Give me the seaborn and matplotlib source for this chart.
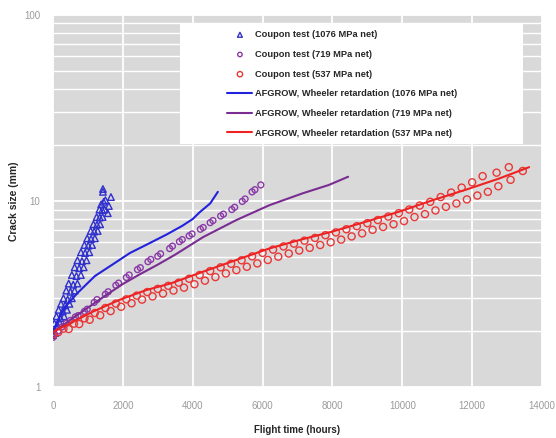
import matplotlib
matplotlib.use("Agg")
import matplotlib.pyplot as plt
import seaborn as sns
import pandas as pd
from matplotlib.patches import Rectangle
from matplotlib.ticker import FixedLocator, NullFormatter, LogLocator

# ---- data ----
# AFGROW predictions (Wheeler retardation)
afg_1076_x = [0, 150, 350, 700, 1200, 1700, 2200, 2700, 3250, 3700, 4000, 4200, 4500, 4720]
afg_1076_y = [1.97, 2.3, 2.7, 3.2, 3.95, 4.55, 5.25, 5.85, 6.6, 7.35, 8.0, 8.7, 9.7, 11.2]

afg_719_x = [0, 500, 1000, 1500, 2000, 2500, 3000, 3500, 4300, 5250, 6200, 7150, 7900, 8450]
afg_719_y = [1.95, 2.3, 2.67, 3.1, 3.58, 4.05, 4.55, 5.15, 6.4, 7.9, 9.5, 11.0, 12.2, 13.5]

afg_537_x = [0, 570, 1140, 1900, 2670, 3380, 4300, 5250, 6200, 7100, 8000, 8960, 9910,
             10870, 11820, 12770, 13630]
afg_537_y = [1.98, 2.24, 2.54, 2.94, 3.32, 3.61, 4.17, 4.82, 5.56, 6.2, 6.85, 7.74, 8.76,
             10.1, 11.5, 13.2, 15.2]

# coupon tests
cp_1076_x = [0, 30, 60, 40, 120, 200, 100, 210, 320, 160, 280, 400, 230, 350, 470,
             300, 420, 540, 380, 500, 620, 450, 580, 700, 540, 670, 800, 620, 750, 880,
             700, 830, 960, 800, 920, 1040, 900, 1010, 1120, 980, 1090, 1200, 1080, 1180,
             1280, 1160, 1260, 1350, 1250, 1340, 1420, 1330, 1410, 1480, 1380, 1450,
             1430, 1430, 1660, 1570, 1600, 1500]
cp_1076_y = [1.9, 2.0, 1.95, 2.2, 2.15, 2.2, 2.4, 2.35, 2.4, 2.6, 2.55, 2.6, 2.8, 2.75,
             2.8, 3.0, 2.95, 3.0, 3.3, 3.25, 3.3, 3.6, 3.55, 3.6, 4.0, 3.95, 4.0, 4.4, 4.35,
             4.4, 4.8, 4.75, 4.8, 5.3, 5.25, 5.3, 5.8, 5.75, 5.8, 6.3, 6.25, 6.3, 6.9, 6.85,
             6.9, 7.5, 7.45, 7.5, 8.2, 8.15, 8.2, 9.0, 8.95, 9.0, 9.6, 9.9, 11.2, 11.6, 10.5,
             8.6, 9.4, 10.1]

cp_719_x = [0, 40, 150, 250, 380, 500, 640, 720, 900, 980, 1180, 1260, 1500, 1580, 1800,
            1880, 2100, 2180, 2420, 2500, 2720, 2800, 3000, 3080, 3340, 3420, 3620, 3700,
            3900, 3980, 4220, 4300, 4500, 4580, 4800, 4880, 5120, 5200, 5420, 5500, 5700,
            5780, 5950]
cp_719_y = [1.85, 1.92, 2.0, 2.1, 2.2, 2.28, 2.38, 2.42, 2.55, 2.62, 2.85, 2.95, 3.15, 3.25,
            3.52, 3.62, 3.88, 4.0, 4.28, 4.38, 4.72, 4.85, 5.05, 5.2, 5.55, 5.72, 6.05, 6.2,
            6.5, 6.65, 7.05, 7.2, 7.65, 7.85, 8.3, 8.5, 9.0, 9.25, 9.95, 10.25, 11.2, 11.5,
            12.2]

cp_537_x = [0, 300, 600, 900, 1200, 1500, 1800, 2100, 2400, 2700, 3000, 3300, 3600, 3900,
            4200, 4500, 4800, 5100, 5400, 5700, 6000, 6300, 6600, 6900, 7200, 7500, 7800,
            8100, 8400, 8700, 9000, 9300, 9600, 9900, 10200, 10500, 10800, 11100, 11400,
            11700, 12000, 12300, 12700, 13050, 13450,
            150, 450, 750, 1050, 1350, 1650, 1950, 2250, 2550, 2850, 3150, 3450, 3750, 4050,
            4350, 4650, 4950, 5250, 5550, 5850, 6150, 6450, 6750, 7050, 7350, 7650, 7950,
            8250, 8550, 8850, 9150, 9450, 9750, 10050, 10350, 10650, 10950, 11250, 11550,
            11850, 12150, 12450, 12750, 13100]
cp_537_y = [1.92, 2.06, 2.19, 2.34, 2.5, 2.66, 2.81, 2.96, 3.1, 3.24, 3.37, 3.5, 3.64, 3.82,
            4.0, 4.2, 4.4, 4.6, 4.8, 5.04, 5.26, 5.48, 5.7, 5.9, 6.12, 6.33, 6.55, 6.78, 7.05,
            7.32, 7.6, 7.9, 8.25, 8.6, 9.0, 9.45, 9.9, 10.5, 11.1, 11.8, 12.6, 13.6, 14.2,
            15.2, 14.5,
            1.97, 2.05, 2.18, 2.3, 2.43, 2.56, 2.7, 2.82, 2.95, 3.07, 3.18, 3.3, 3.42, 3.57,
            3.73, 3.9, 4.08, 4.25, 4.43, 4.62, 4.82, 5.02, 5.22, 5.42, 5.6, 5.8, 6.0, 6.2,
            6.45, 6.7, 7.0, 7.25, 7.5, 7.8, 8.2, 8.5, 8.9, 9.3, 9.7, 10.2, 10.7, 11.2, 12.0,
            13.0]

x_ticks = [0, 2000, 4000, 6000, 8000, 10000, 12000, 14000]
y_ticks = [1, 10, 100]

c_blue = "#2222dd"
c_purple = "#7a2c92"
c_red = "#ee2222"

# ---- style ----
sns.set_style("darkgrid", {"axes.facecolor": "#d9d9d9", "grid.color": "white"})
plt.rcParams['font.family'] = ['Liberation Sans', 'DejaVu Sans']

fig = plt.figure(figsize=(5.56, 4.38), dpi=100)
ax = fig.add_axes([0.0953, 0.1164, 0.8795, 0.8494])

sns.scatterplot(x=cp_1076_x, y=cp_1076_y, ax=ax, marker="^", s=22, facecolors="none",
                edgecolor="#3030cc", linewidth=1.0, label="Coupon test (1076 MPa net)", zorder=3)
sns.scatterplot(x=cp_719_x, y=cp_719_y, ax=ax, marker="o", s=18, facecolors="none",
                edgecolor="#8a3aa8", linewidth=1.0, label="Coupon test (719 MPa net)", zorder=3)
sns.scatterplot(x=cp_537_x, y=cp_537_y, ax=ax, marker="o", s=26, facecolors="none",
                edgecolor="#e83838", linewidth=1.0, label="Coupon test (537 MPa net)", zorder=3)

sns.lineplot(x=afg_1076_x, y=afg_1076_y, ax=ax, color=c_blue, lw=1.5, sort=False,
             label="AFGROW, Wheeler retardation (1076 MPa net)", zorder=4)
sns.lineplot(x=afg_719_x, y=afg_719_y, ax=ax, color=c_purple, lw=1.5, sort=False,
             label="AFGROW, Wheeler retardation (719 MPa net)", zorder=4)
sns.lineplot(x=afg_537_x, y=afg_537_y, ax=ax, color=c_red, lw=1.5, sort=False,
             label="AFGROW, Wheeler retardation (537 MPa net)", zorder=4)

ax.set_yscale("log")
ax.set_xlim(0, 14000)
ax.set_ylim(1, 100)
ax.xaxis.set_major_locator(FixedLocator(x_ticks))
ax.yaxis.set_major_locator(FixedLocator(y_ticks))
ax.set_yticklabels([str(v) for v in y_ticks])
ax.yaxis.set_minor_locator(LogLocator(base=10, subs=range(2, 10)))
ax.yaxis.set_minor_formatter(NullFormatter())
ax.grid(True, which="major", color="white", lw=1.3)
ax.grid(True, which="minor", axis="y", color="white", lw=1.0)
ax.tick_params(axis="both", which="both", length=0, labelsize=7, labelcolor="#9a9a9a")
ax.tick_params(axis="y", pad=9)
ax.tick_params(axis="x", pad=10)
for s in ax.spines.values():
    s.set_visible(False)

ax.set_xlabel("Flight time (hours)", fontsize=7, fontweight="bold", labelpad=10)
ax.set_ylabel("Crack size (mm)", fontsize=7.5, fontweight="bold", labelpad=4)

# white legend panel
ax.add_patch(Rectangle((0.26, 0.653), 0.701, 0.325, transform=ax.transAxes,
                       facecolor="white", edgecolor="none", zorder=5))
leg = ax.legend(loc="upper left", bbox_to_anchor=(0.349, 0.969), frameon=False,
                prop={"weight": "bold", "size": 6.7}, handlelength=2.7,
                handletextpad=0.3, labelspacing=1.15, borderaxespad=0,
                markerscale=0.75)
leg.set_zorder(6)

fig.savefig("out.png", dpi=100)
